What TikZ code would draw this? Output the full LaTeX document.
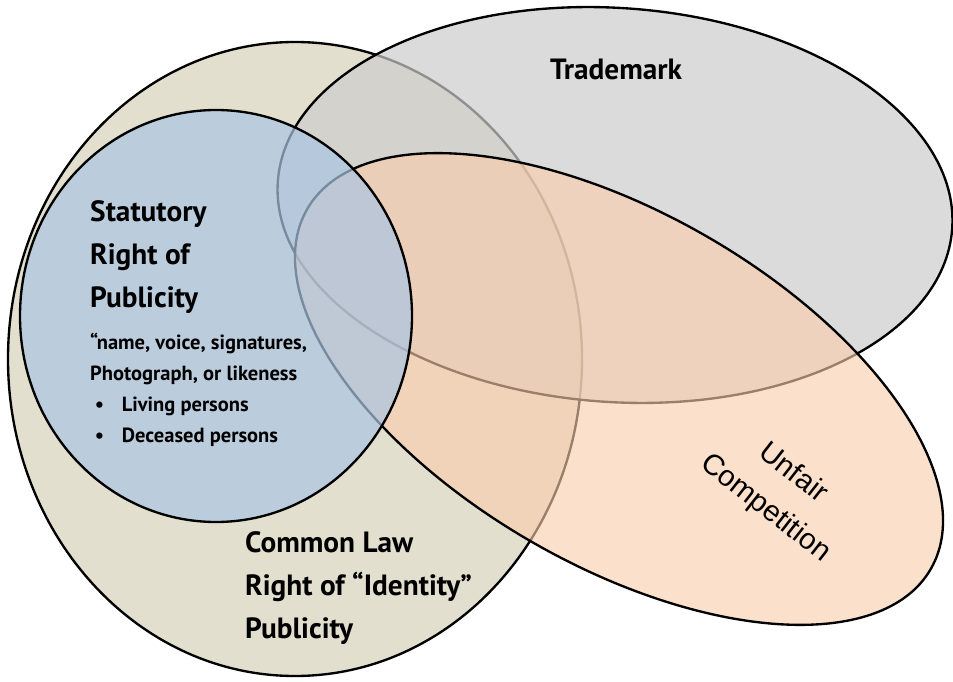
\documentclass[tikz,border=0pt]{standalone}
\usepackage{fontspec}
\usepackage{xcolor}
\usepackage{tikz}
\setmainfont{PT Sans}
\newfontfamily\compfont{Liberation Sans}

\definecolor{commonbeige}{RGB}{227,223,207}
\definecolor{statblue}{RGB}{171,197,226}
\definecolor{markgray}{RGB}{205,205,205}
\definecolor{unfairpeach}{RGB}{250,205,172}

\newcommand{\bul}{\makebox[27pt][l]{\hspace{4pt}\textbullet}}

\begin{document}
\begin{tikzpicture}[x=0.03cm,y=-0.03cm,
    outline/.style={draw=black,line width=2pt},
    head/.style={anchor=north west,inner sep=0pt,align=left,font=\bfseries\fontsize{25}{37}\selectfont},
    note/.style={anchor=north west,inner sep=0pt,align=left,font=\bfseries\fontsize{17.5}{26.5}\selectfont}]
  % White page
  \fill[white] (0,0) rectangle (953,682);
  \useasboundingbox (0,0) rectangle (953,682);

  % Common law ellipse, solid at the back
  \filldraw[outline,fill=commonbeige] (295,359) ellipse [x radius=287,y radius=317];

  % Trademark ellipse, see-through
  \filldraw[outline,fill=markgray,fill opacity=0.7,rotate around={-4:(615,205)}]
    (615,205) ellipse [x radius=338,y radius=197];

  % Unfair competition ellipse, tilted
  \filldraw[outline,fill=unfairpeach,fill opacity=0.62,rotate around={-30:(619,389)}]
    (619,389) ellipse [x radius=360,y radius=176];

  % Statutory circle on top
  \fill[statblue,fill opacity=0.7] (216,316) ellipse [x radius=196,y radius=206];
  \draw[outline] (216,316) ellipse [x radius=196,y radius=206];

  % Labels
  \node[head] (stat) at (90,200) {Statutory\\Right of\\Publicity};
  \node[note] (statnote) at (90,333) {“name, voice, signatures,\\Photograph, or likeness\\
    \bul Living persons\\\bul Deceased persons};
  \node[head] (common) at (245,531) {Common Law\\Right of “Identity”\\Publicity};
  \node[head] (mark) at (550,59) {Trademark};
  \node[align=center,rotate=-38,font=\compfont\fontsize{25}{38}\selectfont] (unfair)
    at (779,491) {Unfair\\Competition};
\end{tikzpicture}
\end{document}
